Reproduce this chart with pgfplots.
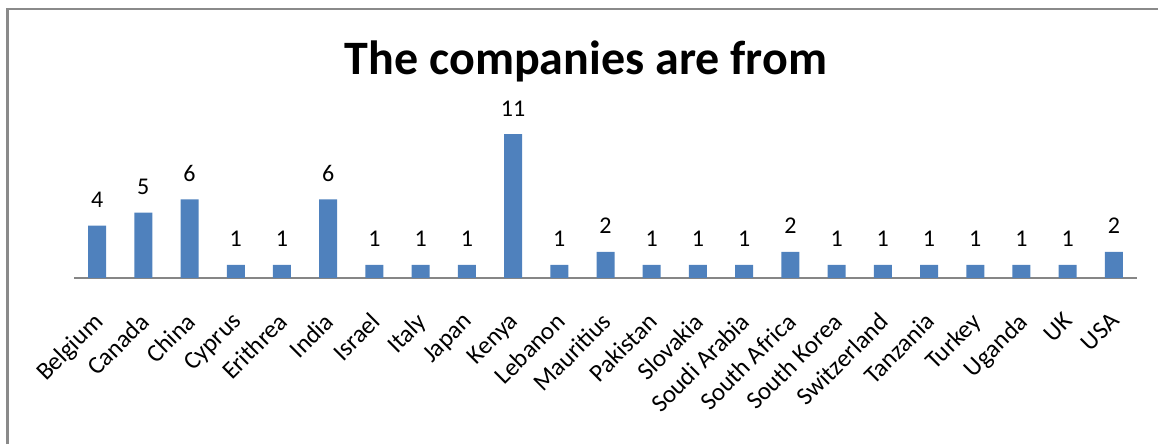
\documentclass[border=0pt]{standalone}
\usepackage{fontspec}
\setmainfont{Carlito}
\usepackage{pgfplots}
\pgfplotsset{compat=1.18}
\definecolor{barblue}{HTML}{4F81BD}
\definecolor{axgray}{HTML}{868686}
\definecolor{bordergray}{HTML}{8A8A8A}
\begin{document}
\begin{tikzpicture}[x=1pt,y=1pt]
\useasboundingbox (0,0) rectangle (1158,444);
\draw[bordergray, line width=2.5pt] (7.5,0) -- (7.5,435) -- (1158,435);
\node[font=\fontsize{48}{52}\selectfont\bfseries, anchor=base, inner sep=0pt] at (586,369) {The companies are from};
\begin{axis}[
  at={(74pt,166pt)}, anchor=south west,
  scale only axis, width=1063pt, height=157pt,
  xmin=-0.5, xmax=22.5, ymin=0, ymax=12,
  axis x line*=bottom, axis y line=none,
  axis line style={axgray, line width=1.5pt},
  xtick=data,
  xticklabels={Belgium,Canada,China,Cyprus,Erithrea,India,Israel,Italy,Japan,Kenya,Lebanon,Mauritius,Pakistan,Slovakia,Soudi Arabia,South Africa,South Korea,Switzerland,Tanzania,Turkey,Uganda,UK,USA},
  major tick length=0pt,
  xticklabel style={xshift=-5pt, yshift=-33pt, rotate=45, anchor=north east, inner sep=0pt, font=\fontsize{25}{28}\selectfont},
  ytick=\empty,
  ybar, bar width=18pt,
  nodes near coords,
  /pgf/number format/assume math mode=true,
  every node near coord/.append style={font=\fontsize{24}{26}\selectfont, inner sep=0pt, yshift=18pt, anchor=base, black},
  clip=false,
]
\addplot[fill=barblue, draw=none] coordinates {
(0,4) (1,5) (2,6) (3,1) (4,1) (5,6) (6,1) (7,1) (8,1) (9,11) (10,1) (11,2)
(12,1) (13,1) (14,1) (15,2) (16,1) (17,1) (18,1) (19,1) (20,1) (21,1) (22,2)};
\end{axis}
\end{tikzpicture}
\end{document}
